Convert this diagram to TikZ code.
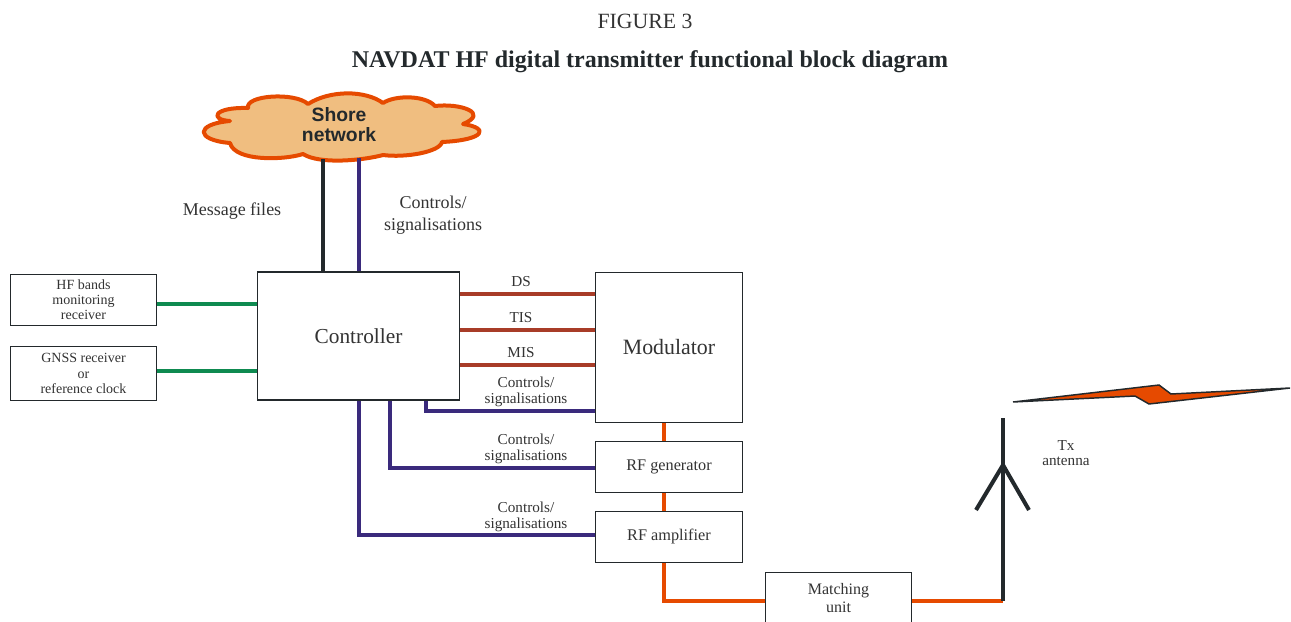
\documentclass[tikz,border=0pt]{standalone}
\usepackage{fontspec}
\setmainfont{Liberation Serif}
\setsansfont{Liberation Sans}
\usetikzlibrary{positioning}
\definecolor{NavDark}{HTML}{23292C}
\definecolor{NavPurple}{HTML}{3A2A7C}
\definecolor{NavOrange}{HTML}{E64A00}
\definecolor{NavBrown}{HTML}{A83C28}
\definecolor{NavGreen}{HTML}{0E8A50}
\definecolor{NavCloud}{HTML}{F0BE80}
\definecolor{NavText}{HTML}{333333}
\begin{document}
\begin{tikzpicture}[
        x=0.75pt, y=-0.75pt,
        node distance=13.5pt,
        block/.style={
            rectangle, draw=NavDark, line width=0.8pt, fill=white, text=NavText,
            minimum width=110pt, align=center, inner sep=0pt
        },
        smallblock/.style={block, font=\fontsize{10.5}{11.4}\selectfont, minimum height=38pt},
        label/.style={font=\fontsize{11.4}{11.7}\selectfont, align=center, text=NavText},
        biglabel/.style={font=\fontsize{13.5}{16.5}\selectfont, align=center, text=NavText},
        darkline/.style={line width=3pt, color=NavDark},
        ctrlline/.style={line width=2.6pt, color=NavPurple},
        rfline/.style={line width=2.8pt, color=NavOrange},
        dataline/.style={line width=2.6pt, color=NavBrown},
        syncline/.style={line width=2.6pt, color=NavGreen}
    ]
    \useasboundingbox (0,0) rectangle (1291,621);

    % Title
    \node (figno) [font=\fontsize{16.3}{18}\selectfont, text=NavText] at (645,21) {FIGURE 3};
    \node (title) [font=\fontsize{18}{20}\selectfont\bfseries, text=NavDark] at (650,62)
        {NAVDAT HF digital transmitter functional block diagram};

    % Blocks
    \node (hf) [smallblock] at (83.5,300) {HF bands\\monitoring\\receiver};
    \node (gnss) [smallblock, minimum height=40pt] at (83.5,373.5) {GNSS receiver\\or\\reference clock};
    \node (ctrl) [block, minimum width=152pt, minimum height=96pt, font=\fontsize{16}{18}\selectfont] at (358.5,336) {Controller};
    \node (mod) [block, minimum height=113pt, font=\fontsize{16.4}{18}\selectfont] at (669,347.5) {Modulator};
    \node (rfgen) [smallblock, below=of mod, font=\fontsize{12.2}{14}\selectfont] {RF generator};
    \node (rfamp) [smallblock, below=of rfgen, font=\fontsize{12.2}{14}\selectfont] {RF amplifier};
    \node (match) [smallblock, minimum height=50pt] at (838.5,606) {};
    \node (matchtxt) [label, font=\fontsize{12}{13.5}\selectfont] at (838.5,598) {Matching\\unit};

    % Cloud
    \draw [NavOrange, line width=3pt, fill=NavCloud, line join=round]
        (230,121) .. controls (210,120) and (212,107) .. (248,108)
        .. controls (245,95) and (295,92) .. (308,104)
        .. controls (330,90) and (365,90) .. (383,103)
        .. controls (395,95) and (425,95) .. (435,106)
        .. controls (460,103) and (490,113) .. (463,124)
        .. controls (490,128) and (485,140) .. (442,142)
        .. controls (440,152) and (405,158) .. (383,155)
        .. controls (365,160) and (320,165) .. (303,154)
        .. controls (285,160) and (235,162) .. (230,143)
        .. controls (195,140) and (195,124) .. (230,121) -- cycle;
    \node (shore) [font=\fontsize{14.5}{15}\selectfont\sffamily\bfseries, text=NavDark, align=center] at (339,125) {Shore\\network};

    % Links to the cloud
    \coordinate (shoremsg) at (323,159);
    \coordinate (shorectrl) at (359,158);
    \draw [darkline] (shoremsg) -- (ctrl.north -| shoremsg);
    \draw [ctrlline] (shorectrl) -- (ctrl.north -| shorectrl);

    % Links left of controller
    \draw [syncline] (hf.east |- 0,304) -- (ctrl.west |- 0,304);
    \draw [syncline] (gnss.east |- 0,371) -- (ctrl.west |- 0,371);

    % Links controller to modulator
    \draw [dataline] (ctrl.east |- 0,294) -- (mod.west |- 0,294);
    \draw [dataline] (ctrl.east |- 0,330) -- (mod.west |- 0,330);
    \draw [dataline] (ctrl.east |- 0,365) -- (mod.west |- 0,365);

    % Control links
    \draw [ctrlline] (ctrl.south -| 426,0) |- (mod.west |- 0,411);
    \draw [ctrlline] (ctrl.south -| 390,0) |- (rfgen.west |- 0,468);
    \draw [ctrlline] (ctrl.south -| 359,0) |- (rfamp.west |- 0,535);

    % RF chain
    \coordinate (mast) at (1003,601);
    \coordinate (masttop) at (1003,418);
    \coordinate (fork) at (1003,465);
    \coordinate (armleft) at (976,510);
    \coordinate (armright) at (1029,510);
    \draw [rfline] (mod.south -| 664,0) -- (rfgen.north -| 664,0);
    \draw [rfline] (rfgen.south -| 664,0) -- (rfamp.north -| 664,0);
    \draw [rfline] (rfamp.south -| 664,0) |- (match.west |- 0,601);
    \draw [rfline] (match.east |- 0,601) -- (mast);

    % Antenna
    \draw [darkline] (masttop) -- (mast);
    \draw [darkline] (armleft) -- (fork) -- (armright);
    \draw [NavDark, fill=NavOrange, line width=1.1pt, line join=miter]
        (1013,402) -- (1159,385) -- (1171,394) -- (1290,388) -- (1149,404) -- (1135,396) -- cycle;

    % Labels
    \node (msglabel) [biglabel] at (232,211) {Message files};
    \node (ctrllabel) [biglabel] at (433,215) {Controls/\\signalisations};
    \node (dslabel) [label] at (521,282) {DS};
    \node (tislabel) [label] at (521,318) {TIS};
    \node (mislabel) [label] at (521,353) {MIS};
    \node (modlabel) [label] at (526,392) {Controls/\\signalisations};
    \node (genlabel) [label] at (526,449) {Controls/\\signalisations};
    \node (amplabel) [label] at (526,517) {Controls/\\signalisations};
    \node (txlabel) [label] at (1066,453) {Tx\\antenna};
\end{tikzpicture}
\end{document}
